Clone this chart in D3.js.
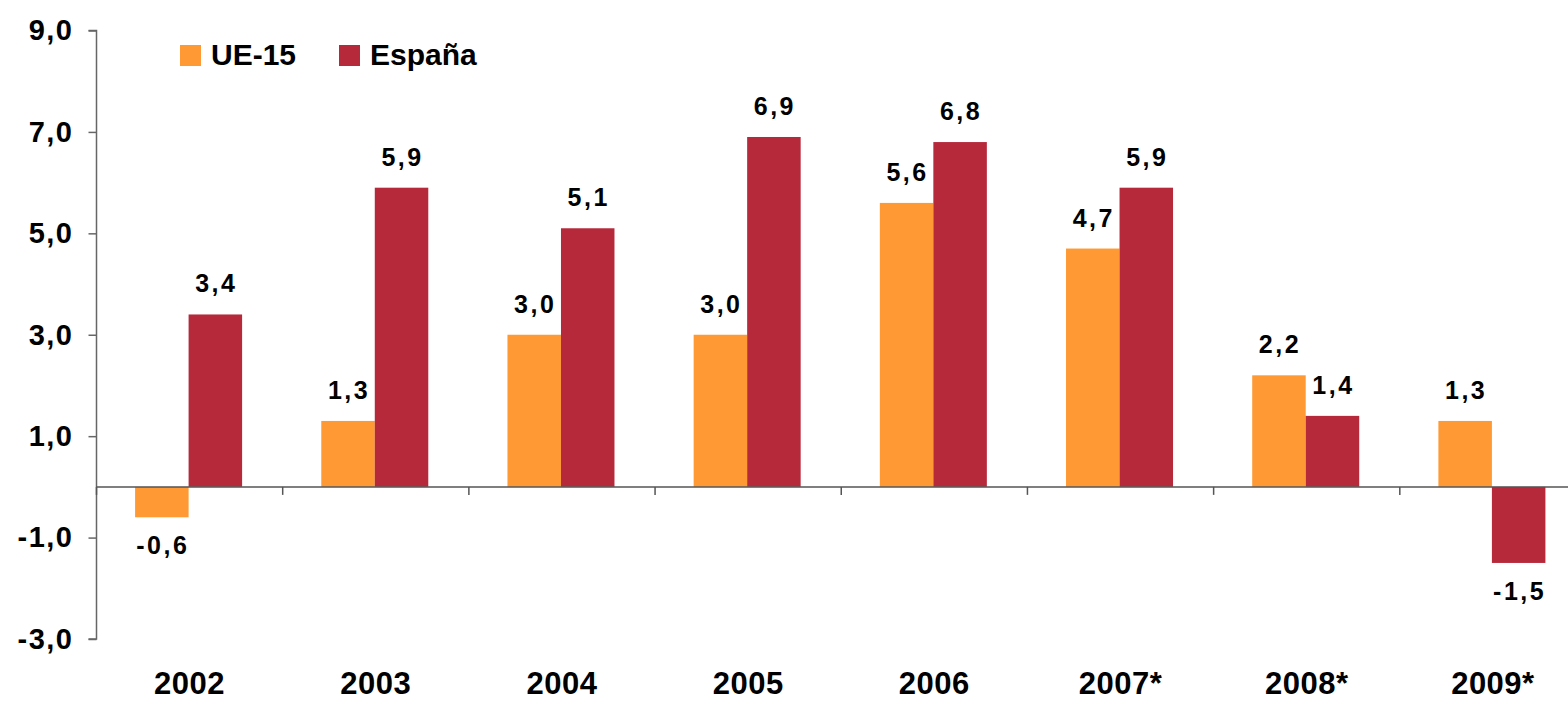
<!DOCTYPE html>
<html>
<head>
<meta charset="utf-8">
<script src="https://cdn.jsdelivr.net/npm/d3@7"></script>
<style>
  body { margin: 0; background: #fff; }
  svg text { font-family: "Liberation Sans", Arial, sans-serif; font-weight: bold; fill: #000; }
</style>
</head>
<body>
<div id="chart"></div>
<script>
var years = ["2002", "2003", "2004", "2005", "2006", "2007*", "2008*", "2009*"];
var seriesNames = ["UE-15", "España"];
var ue15 = [-0.6, 1.3, 3.0, 3.0, 5.6, 4.7, 2.2, 1.3];
var espana = [3.4, 5.9, 5.1, 6.9, 6.8, 5.9, 1.4, -1.5];
var yTicks = [-3, -1, 1, 3, 5, 7, 9];
var colors = ["#FF9933", "#B5293B"];

var width = 1568, height = 702;

var svg = d3.select("#chart").append("svg")
    .attr("width", width)
    .attr("height", height);

var y = d3.scaleLinear().domain([-3, 9]).range([639, 30.5]);
var x0 = d3.scaleBand().domain(years).range([96.5, 1586]).padding(0);
var x1 = d3.scaleBand().domain(seriesNames).range([0, x0.bandwidth()])
    .paddingInner(0).paddingOuter(0.74);

var fmt = function(v) { return d3.format(".1f")(v).replace(".", ",").replace("−", "-"); };

// bars
var rows = years.map(function(yr, i) {
    return { year: yr, values: [ue15[i], espana[i]] };
});

var groups = svg.selectAll("g.year").data(rows).enter()
    .append("g").attr("class", "year")
    .attr("transform", function(d) { return "translate(" + x0(d.year) + ",0)"; });

groups.selectAll("rect")
    .data(function(d) { return d.values.map(function(v, k) { return { name: seriesNames[k], k: k, value: v }; }); })
    .enter().append("rect")
    .attr("x", function(d) { return x1(d.name) - 1; })
    .attr("width", x1.bandwidth())
    .attr("y", function(d) { return y(Math.max(0, d.value)); })
    .attr("height", function(d) { return Math.abs(y(d.value) - y(0)); })
    .attr("fill", function(d) { return colors[d.k]; });

// value labels
groups.selectAll("text.val")
    .data(function(d) { return d.values.map(function(v, k) { return { name: seriesNames[k], value: v }; }); })
    .enter().append("text")
    .attr("class", "val")
    .attr("x", function(d) { return x1(d.name) + x1.bandwidth() / 2; })
    .attr("y", function(d) { return d.value >= 0 ? y(d.value) - 22 : y(d.value) + 37; })
    .attr("text-anchor", "middle")
    .style("font-size", "25px")
    .style("letter-spacing", "2.5px")
    .text(function(d) { return fmt(d.value); });

// y axis
var yAxis = svg.append("g")
    .attr("transform", "translate(96.5,0)")
    .call(d3.axisLeft(y).tickValues(yTicks).tickSize(8).tickPadding(15).tickFormat(fmt));
yAxis.select(".domain").attr("stroke", "#666").attr("stroke-width", 1.5)
    .attr("d", "M-8," + y(9) + "H0V" + y(-3) + "H-8");
yAxis.selectAll(".tick line").attr("stroke", "#666").attr("stroke-width", 1.5);
yAxis.selectAll(".tick text")
    .style("font-size", "29px")
    .style("letter-spacing", "1.5px")
    .style("font-family", "Liberation Sans, Arial, sans-serif")
    .style("font-weight", "bold")
    .attr("fill", "#000");

// x axis (zero line)
svg.append("line")
    .attr("x1", 96.5).attr("x2", width)
    .attr("y1", y(0)).attr("y2", y(0))
    .attr("stroke", "#555").attr("stroke-width", 1.5);

svg.selectAll("line.xtick").data(years).enter().append("line")
    .attr("class", "xtick")
    .attr("x1", function(d) { return x0(d); })
    .attr("x2", function(d) { return x0(d); })
    .attr("y1", y(0)).attr("y2", y(0) + 8)
    .attr("stroke", "#555").attr("stroke-width", 1.5);

svg.selectAll("text.xlab").data(years).enter().append("text")
    .attr("class", "xlab")
    .attr("x", function(d) { return x0(d) + x0.bandwidth() / 2; })
    .attr("y", 694)
    .attr("text-anchor", "middle")
    .style("font-size", "31px")
    .style("letter-spacing", "0.5px")
    .text(function(d) { return d; });

// legend
var legendX = [180, 339];
var legend = svg.selectAll("g.legend").data(seriesNames).enter()
    .append("g").attr("class", "legend")
    .attr("transform", function(d, i) { return "translate(" + legendX[i] + ",45)"; });

legend.append("rect")
    .attr("width", 21).attr("height", 21)
    .attr("fill", function(d, i) { return colors[i]; });

legend.append("text")
    .attr("x", 31).attr("y", 20)
    .style("font-size", "30px")
    .text(function(d) { return d; });
</script>
</body>
</html>
